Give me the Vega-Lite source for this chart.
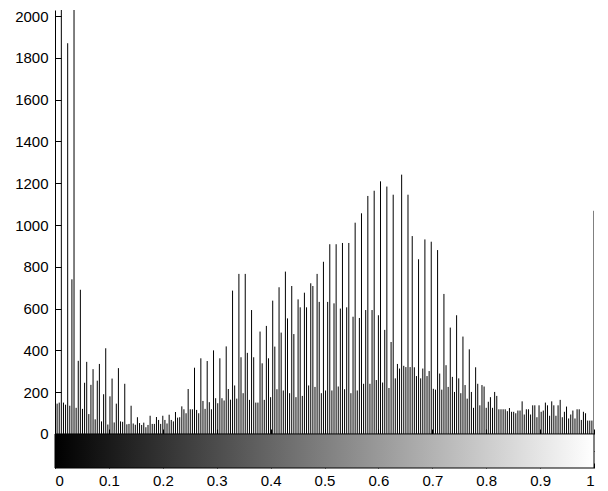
{
  "$schema": "https://vega.github.io/schema/vega-lite/v6.json",
  "width": 539,
  "height": 458,
  "autosize": {"type": "none"},
  "padding": {"left": 55, "top": 10, "right": 14, "bottom": 23},
  "background": "white",
  "config": {
    "view": {"stroke": null},
    "axis": {"labelFont": "Liberation Sans", "labelFontSize": 15, "labelColor": "black", "domainColor": "black", "tickColor": "black", "grid": false, "title": null}
  },
  "resolve": {"axis": {"x": "independent", "y": "independent"}},
  "layer": [
    {
      "data": {"values": [{"b":0,"c":320},{"b":1,"c":145},{"b":2,"c":150},{"b":3,"c":2100},{"b":4,"c":150},{"b":5,"c":140},{"b":6,"c":1870},{"b":7,"c":135},{"b":8,"c":740},{"b":9,"c":2100},{"b":10,"c":125},{"b":11,"c":350},{"b":12,"c":690},{"b":13,"c":120},{"b":14,"c":245},{"b":15,"c":345},{"b":16,"c":95},{"b":17,"c":235},{"b":18,"c":310},{"b":19,"c":70},{"b":20,"c":255},{"b":21,"c":335},{"b":22,"c":60},{"b":23,"c":190},{"b":24,"c":410},{"b":25,"c":45},{"b":26,"c":180},{"b":27,"c":265},{"b":28,"c":55},{"b":29,"c":145},{"b":30,"c":315},{"b":31,"c":60},{"b":32,"c":58},{"b":33,"c":240},{"b":34,"c":46},{"b":35,"c":48},{"b":36,"c":135},{"b":37,"c":50},{"b":38,"c":44},{"b":39,"c":80},{"b":40,"c":52},
        {"b":41,"c":43},{"b":42,"c":54},{"b":43,"c":32},{"b":44,"c":43},{"b":45,"c":87},{"b":46,"c":48},{"b":47,"c":48},{"b":48,"c":81},{"b":49,"c":67},{"b":50,"c":48},{"b":51,"c":87},{"b":52,"c":67},{"b":53,"c":50},{"b":54,"c":92},{"b":55,"c":67},{"b":56,"c":60},{"b":57,"c":105},{"b":58,"c":78},{"b":59,"c":80},{"b":60,"c":132},{"b":61,"c":118},{"b":62,"c":99},{"b":63,"c":215},{"b":64,"c":118},{"b":65,"c":118},{"b":66,"c":317},{"b":67,"c":115},{"b":68,"c":99},{"b":69,"c":362},{"b":70,"c":158},{"b":71,"c":120},{"b":72,"c":349},{"b":73,"c":152},{"b":74,"c":118},{"b":75,"c":400},{"b":76,"c":171},{"b":77,"c":147},{"b":78,"c":362},{"b":79,"c":171},{"b":80,"c":160},{"b":81,"c":419},{"b":82,"c":215},{"b":83,"c":164},{"b":84,"c":686},
        {"b":85,"c":232},{"b":86,"c":169},{"b":87,"c":766},{"b":88,"c":367},{"b":89,"c":195},{"b":90,"c":766},{"b":91,"c":388},{"b":92,"c":163},{"b":93,"c":593},{"b":94,"c":367},{"b":95,"c":150},{"b":96,"c":150},{"b":97,"c":490},{"b":98,"c":338},{"b":99,"c":163},{"b":100,"c":517},{"b":101,"c":362},{"b":102,"c":176},{"b":103,"c":638},{"b":104,"c":418},{"b":105,"c":214},{"b":106,"c":702},{"b":107,"c":485},{"b":108,"c":208},{"b":109,"c":777},{"b":110,"c":553},{"b":111,"c":195},{"b":112,"c":708},{"b":113,"c":478},{"b":114,"c":176},{"b":115,"c":644},{"b":116,"c":606},{"b":117,"c":182},{"b":118,"c":676},{"b":119,"c":606},{"b":120,"c":232},{"b":121,"c":721},{"b":122,"c":708},{"b":123,"c":225},{"b":124,"c":766},{"b":125,"c":632},{"b":126,"c":195},{"b":127,"c":824},
        {"b":128,"c":208},{"b":129,"c":632},{"b":130,"c":908},{"b":131,"c":208},{"b":132,"c":625},{"b":133,"c":908},{"b":134,"c":227},{"b":135,"c":600},{"b":136,"c":914},{"b":137,"c":214},{"b":138,"c":606},{"b":139,"c":914},{"b":140,"c":195},{"b":141,"c":561},{"b":142,"c":1011},{"b":143,"c":208},{"b":144,"c":555},{"b":145,"c":1056},{"b":146,"c":240},{"b":147,"c":593},{"b":148,"c":1139},{"b":149,"c":240},{"b":150,"c":593},{"b":151,"c":1164},{"b":152,"c":258},{"b":153,"c":568},{"b":154,"c":1209},{"b":155,"c":246},{"b":156,"c":498},{"b":157,"c":1184},{"b":158,"c":220},{"b":159,"c":440},{"b":160,"c":1145},{"b":161,"c":266},{"b":162,"c":335},{"b":163,"c":313},{"b":164,"c":1241},{"b":165,"c":326},{"b":166,"c":320},{"b":167,"c":1145},{"b":168,"c":320},{"b":169,"c":947},
        {"b":170,"c":319},{"b":171,"c":277},{"b":172,"c":836},{"b":173,"c":266},{"b":174,"c":313},{"b":175,"c":931},{"b":176,"c":277},{"b":177,"c":301},{"b":178,"c":920},{"b":179,"c":216},{"b":180,"c":212},{"b":181,"c":880},{"b":182,"c":289},{"b":183,"c":212},{"b":184,"c":670},{"b":185,"c":329},{"b":186,"c":225},{"b":187,"c":509},{"b":188,"c":273},{"b":189,"c":201},{"b":190,"c":568},{"b":191,"c":266},{"b":192,"c":195},{"b":193,"c":466},{"b":194,"c":234},{"b":195,"c":169},{"b":196,"c":405},{"b":197,"c":201},{"b":198,"c":125},{"b":199,"c":319},{"b":200,"c":240},{"b":201,"c":137},{"b":202,"c":234},{"b":203,"c":227},{"b":204,"c":125},{"b":205,"c":154},{"b":206,"c":176},{"b":207,"c":125},{"b":208,"c":201},{"b":209,"c":182},{"b":210,"c":118},{"b":211,"c":118},
        {"b":212,"c":118},{"b":213,"c":118},{"b":214,"c":109},{"b":215,"c":124},{"b":216,"c":106},{"b":217,"c":106},{"b":218,"c":99},{"b":219,"c":112},{"b":220,"c":112},{"b":221,"c":156},{"b":222,"c":93},{"b":223,"c":118},{"b":224,"c":118},{"b":225,"c":93},{"b":226,"c":137},{"b":227,"c":137},{"b":228,"c":80},{"b":229,"c":137},{"b":230,"c":106},{"b":231,"c":112},{"b":232,"c":150},{"b":233,"c":137},{"b":234,"c":87},{"b":235,"c":156},{"b":236,"c":137},{"b":237,"c":87},{"b":238,"c":137},{"b":239,"c":163},{"b":240,"c":80},{"b":241,"c":106},{"b":242,"c":131},{"b":243,"c":74},{"b":244,"c":93},{"b":245,"c":112},{"b":246,"c":74},{"b":247,"c":118},{"b":248,"c":118},{"b":249,"c":67},{"b":250,"c":106},{"b":251,"c":99},{"b":252,"c":64},{"b":253,"c":64},{"b":254,"c":64},{"b":255,"c":1068}]},
      "mark": {"type": "rule", "color": "black", "strokeWidth": 1, "clip": true},
      "encoding": {
        "x": {"field": "b", "type": "quantitative", "scale": {"domain": [0, 255], "nice": false, "zero": false},
          "axis": {"orient": "bottom", "offset": -34, "labels": false, "domain": false, "tickSize": -5, "values": [0, 25.5, 51, 76.5, 102, 127.5, 153, 178.5, 204, 229.5, 255]}},
        "y": {"field": "c", "type": "quantitative", "scale": {"domain": [-163, 2029], "nice": false, "zero": false},
          "axis": {"orient": "left", "format": "d", "values": [0, 200, 400, 600, 800, 1000, 1200, 1400, 1600, 1800, 2000], "tickSize": -6, "labelPadding": 13}},
        "y2": {"datum": 0}
      }
    },
    {
      "data": {"values": [{"lo": 0, "hi": 255, "bottom": -163, "top": 0}]},
      "mark": {"type": "rect", "fill": {"gradient": "linear", "stops": [{"offset": 0, "color": "black"}, {"offset": 1, "color": "white"}]}, "stroke": "black", "strokeWidth": 1},
      "encoding": {
        "x": {"field": "lo", "type": "quantitative",
          "axis": {"orient": "bottom", "domain": false, "tickSize": -5, "labelPadding": 10, "values": [0, 25.5, 51, 76.5, 102, 127.5, 153, 178.5, 204, 229.5, 255], "labelExpr": "format(datum.value / 255, '~g')"}},
        "x2": {"field": "hi"},
        "y": {"field": "bottom", "type": "quantitative",
          "axis": {"orient": "right", "domain": false, "labels": false, "tickSize": -5, "values": [-81]}},
        "y2": {"field": "top"}
      }
    }
  ]
}
